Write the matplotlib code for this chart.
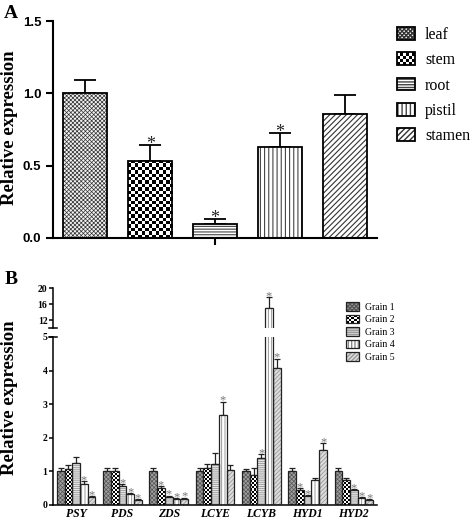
import matplotlib
matplotlib.use("Agg")
import matplotlib.pyplot as plt
import numpy as np
from matplotlib.patches import Patch, Rectangle
from matplotlib.colors import ListedColormap
from matplotlib.legend_handler import HandlerBase

# ---------------- data ----------------
tissues = ['leaf', 'stem', 'root', 'pistil', 'stamen']
a_vals = [1.0, 0.535, 0.10, 0.63, 0.86]
a_err = [0.09, 0.11, 0.03, 0.095, 0.13]
a_sig = [False, True, True, True, False]

genes = ['PSY', 'PDS', 'ZDS', 'LCYE', 'LCYB', 'HYD1', 'HYD2']
grains = ['Grain 1', 'Grain 2', 'Grain 3', 'Grain 4', 'Grain 5']
grain1 = [1.0, 1.0, 1.0, 1.0, 1.0, 1.0, 1.0]
grain1_err = [0.10, 0.10, 0.10, 0.10, 0.08, 0.10, 0.10]
grain2 = [1.06, 1.0, 0.52, 1.10, 0.90, 0.46, 0.74]
grain2_err = [0.12, 0.10, 0.05, 0.12, 0.21, 0.05, 0.06]
grain3 = [1.25, 0.58, 0.25, 1.22, 1.40, 0.26, 0.44]
grain3_err = [0.17, 0.05, 0.03, 0.33, 0.12, 0.03, 0.04]
grain4 = [0.63, 0.33, 0.17, 2.68, 15.0, 0.75, 0.20]
grain4_err = [0.08, 0.03, 0.03, 0.40, 2.8, 0.06, 0.03]
grain5 = [0.23, 0.15, 0.19, 1.05, 4.09, 1.64, 0.15]
grain5_err = [0.03, 0.02, 0.03, 0.13, 0.27, 0.20, 0.03]
sig2 = [False, False, True, False, False, True, False]
sig3 = [False, True, True, False, True, True, True]
sig4 = [True, True, True, True, True, False, True]
sig5 = [True, True, True, False, True, True, True]
sig1 = [False] * 7

b_vals = [grain1, grain2, grain3, grain4, grain5]
b_errs = [grain1_err, grain2_err, grain3_err, grain4_err, grain5_err]
b_sigs = [sig1, sig2, sig3, sig4, sig5]

# ---------------- styles ----------------
SERIF = 'Liberation Serif'
SANS = 'Liberation Sans'

a_styles = [
    dict(fc='#f2f2f2', hatch='xxxxxxxx', hc='#333333', hlw=0.5),
    dict(checker=3.3),
    dict(fc='white', hatch='------', hc='#444444', hlw=0.8),
    dict(fc='white', hatch='||||', hc='#444444', hlw=0.8),
    dict(fc='white', hatch='//////', hc='#333333', hlw=0.8),
]
b_styles = [
    dict(fc='#a0a0a0', hatch='xxxxxxxx', hc='#555555', hlw=0.5),
    dict(checker=2.0),
    dict(fc='#e6e6e6', hatch='--------', hc='#999999', hlw=0.6),
    dict(fc='white', hatch='|||||', hc='#888888', hlw=0.6),
    dict(fc='#dddddd', hatch='////////', hc='#999999', hlw=0.6),
]
CHECK_CMAP = ListedColormap(['white', 'black'])


def hatched_bar(ax, x, h, width, st, edge='black', elw=1.2):
    if 'checker' in st:
        bars = ax.bar(x, h, width, color='white', linewidth=0, zorder=2)
        xl, yl = ax.get_xlim(), ax.get_ylim()
        cell = st['checker']
        for p in bars:
            y0 = max(p.get_y(), yl[0])
            y1 = min(p.get_y() + p.get_height(), yl[1])
            if y1 <= y0:
                continue
            bb = p.get_window_extent()
            frac = (y1 - y0) / p.get_height()
            nx = max(1, int(round(bb.width / cell)))
            ny = max(1, int(round(bb.height * frac / cell)))
            img = np.indices((ny, nx)).sum(axis=0) % 2
            im = ax.imshow(img, cmap=CHECK_CMAP, vmin=0, vmax=1, interpolation='nearest',
                           extent=(p.get_x(), p.get_x() + p.get_width(), y0, y1),
                           aspect='auto', origin='lower', zorder=2.5)
            im.set_clip_path(p)
        ax.set_xlim(xl)
        ax.set_ylim(yl)
    else:
        bars = ax.bar(x, h, width, color=st['fc'], edgecolor=st['hc'],
                      hatch=st['hatch'], linewidth=0, zorder=2)
        for p in bars:
            try:
                p.set_hatch_linewidth(st['hlw'])
            except Exception:
                pass
    ax.bar(x, h, width, facecolor='none', edgecolor=edge, linewidth=elw, zorder=3)


class CheckerHandle:
    def __init__(self, nx, ny, edge, elw):
        self.nx, self.ny, self.edge, self.elw = nx, ny, edge, elw


class HandlerChecker(HandlerBase):
    def create_artists(self, legend, orig_handle, xdescent, ydescent, width, height,
                       fontsize, trans):
        h = orig_handle
        arts = [Rectangle((-xdescent, -ydescent), width, height, fc='white', ec='none',
                          transform=trans)]
        cw, ch = width / h.nx, height / h.ny
        for i in range(h.nx):
            for j in range(h.ny):
                if (i + j) % 2 == 0:
                    arts.append(Rectangle((-xdescent + i * cw, -ydescent + j * ch), cw, ch,
                                          fc='black', ec='none', lw=0, transform=trans))
        arts.append(Rectangle((-xdescent, -ydescent), width, height, fc='none',
                              ec=h.edge, lw=h.elw, transform=trans))
        return arts


def legend_handles(styles, elw, edge='black', cells=(5, 4)):
    hs = []
    for st in styles:
        if 'checker' in st:
            hs.append(CheckerHandle(cells[0], cells[1], edge, elw))
            continue
        p1 = Patch(facecolor=st['fc'], edgecolor=st['hc'], hatch=st['hatch'], linewidth=0)
        try:
            p1.set_hatch_linewidth(st['hlw'])
        except Exception:
            pass
        p2 = Patch(facecolor='none', edgecolor=edge, linewidth=elw)
        hs.append((p1, p2))
    return hs


W, H = 472, 520
fig = plt.figure(figsize=(W / 100, H / 100), dpi=100)


def fx(px):
    return px / W


def fy(py):
    return 1 - py / H


# ---------------- panel A ----------------
axA = fig.add_axes([fx(53), fy(238), fx(377) - fx(53), fy(21) - fy(238)])
axA.set_xlim(-0.5, 4.5)
axA.set_ylim(0, 1.5)
xa = np.arange(len(tissues))
for i in range(len(tissues)):
    hatched_bar(axA, xa[i], a_vals[i], 0.68, a_styles[i], elw=1.3)
axA.errorbar(xa, a_vals, yerr=[np.zeros(len(a_vals)), a_err], fmt='none',
             ecolor='black', elinewidth=1.3, capsize=8, capthick=1.3, zorder=1)
for i in range(len(tissues)):
    if a_sig[i]:
        axA.annotate('*', (xa[i], a_vals[i] + a_err[i]), xytext=(0, -3),
                     textcoords='offset points', ha='center', va='baseline',
                     fontsize=13, family=SERIF, color='#222222')
axA.set_xlim(-0.5, 4.5)
axA.set_ylim(0, 1.5)
axA.set_yticks([0, 0.5, 1.0, 1.5])
axA.set_yticklabels(['0.0', '0.5', '1.0', '1.5'])
axA.set_xticks([2])
axA.set_xticklabels([''])
for s in ['top', 'right']:
    axA.spines[s].set_visible(False)
for s in ['left', 'bottom']:
    axA.spines[s].set_linewidth(1.5)
axA.tick_params(axis='both', width=1.5, length=5)
for t in axA.get_yticklabels():
    t.set_fontfamily(SANS)
    t.set_fontweight('bold')
    t.set_fontsize(9.5)

fig.legend(legend_handles(a_styles, 1.3, cells=(6, 4)), tissues,
           handler_map={CheckerHandle: HandlerChecker()},
           loc='upper left', bbox_to_anchor=(fx(397), fy(27)),
           bbox_transform=fig.transFigure, frameon=False, borderpad=0,
           borderaxespad=0, handlelength=1.15, handleheight=0.85,
           handletextpad=0.6, labelspacing=0.58,
           prop=dict(family=SERIF, size=11.5))
fig.text(fx(10), fy(128), 'Relative expression', rotation=90, ha='center', va='center',
         family=SERIF, fontweight='bold', fontsize=13.5)
fig.text(fx(4), fy(14), 'A', ha='left', va='center', family=SERIF,
         fontweight='bold', fontsize=14)

# ---------------- panel B ----------------
axL = fig.add_axes([fx(53), fy(505), fx(377) - fx(53), fy(337) - fy(505)])
axU = fig.add_axes([fx(53), fy(328), fx(377) - fx(53), fy(288) - fy(328)])
axU.patch.set_visible(False)
axL.set_ylim(0, 5)
axU.set_ylim(10, 20)
xb = np.arange(len(genes))
bw = 0.167
for ax in (axL, axU):
    ax.set_xlim(-0.5, 6.5)
    for k in range(5):
        xs = xb + (k - 2) * bw
        hatched_bar(ax, xs, b_vals[k], bw, b_styles[k], edge='#222222', elw=0.9)
        ax.errorbar(xs, b_vals[k], yerr=[np.zeros(len(genes)), b_errs[k]], fmt='none',
                    ecolor='#222222', elinewidth=0.9, capsize=2.2, capthick=0.9, zorder=1)
    for s in ['top', 'right']:
        ax.spines[s].set_visible(False)
    ax.spines['left'].set_linewidth(1.1)
    ax.tick_params(axis='y', width=1.1, length=3, pad=1)

for k in range(5):
    xs = xb + (k - 2) * bw
    for j in range(len(genes)):
        if b_sigs[k][j]:
            top = b_vals[k][j] + b_errs[k][j]
            ax = axL if top <= 5 else axU
            ax.annotate('*', (xs[j], top), xytext=(0, -1.5), textcoords='offset points',
                        ha='center', va='baseline', fontsize=9, family=SERIF,
                        color='#777777', annotation_clip=False)

axL.set_xlim(-0.5, 6.5)
axU.set_xlim(-0.5, 6.5)
axL.set_ylim(0, 5)
axL.set_yticks([0, 1, 2, 3, 4, 5])
axL.spines['bottom'].set_linewidth(1.1)
axL.set_xticks(xb)
axL.set_xticklabels(genes)
axL.tick_params(axis='x', length=0, pad=2)
for t in axL.get_xticklabels():
    t.set_fontfamily(SERIF)
    t.set_fontweight('bold')
    t.set_fontstyle('italic')
    t.set_fontsize(8.5)

axU.set_ylim(10, 20)
axU.set_yticks([12, 16, 20])
axU.spines['bottom'].set_visible(False)
axU.set_xticks([])
for ax in (axL, axU):
    for t in ax.get_yticklabels():
        t.set_fontfamily(SERIF)
        t.set_fontweight('bold')
        t.set_fontsize(7)

# axis break marks
axL.plot([-0.012, 0.012], [1, 1], transform=axL.transAxes, color='black', lw=1.1, clip_on=False)
axU.plot([-0.012, 0.012], [0, 0], transform=axU.transAxes, color='black', lw=1.1, clip_on=False)

fig.legend(legend_handles(b_styles, 0.9, edge='#222222', cells=(5, 4)), grains,
           handler_map={CheckerHandle: HandlerChecker()},
           loc='upper left', bbox_to_anchor=(fx(346), fy(302)),
           bbox_transform=fig.transFigure, frameon=False, borderpad=0,
           borderaxespad=0, handlelength=1.35, handleheight=1.0,
           handletextpad=0.6, labelspacing=0.3,
           prop=dict(family=SERIF, size=7))
fig.text(fx(10), fy(398), 'Relative expression', rotation=90, ha='center', va='center',
         family=SERIF, fontweight='bold', fontsize=13.5)
fig.text(fx(5), fy(280), 'B', ha='left', va='center', family=SERIF,
         fontweight='bold', fontsize=14)

fig.savefig('out.png', dpi=100)
